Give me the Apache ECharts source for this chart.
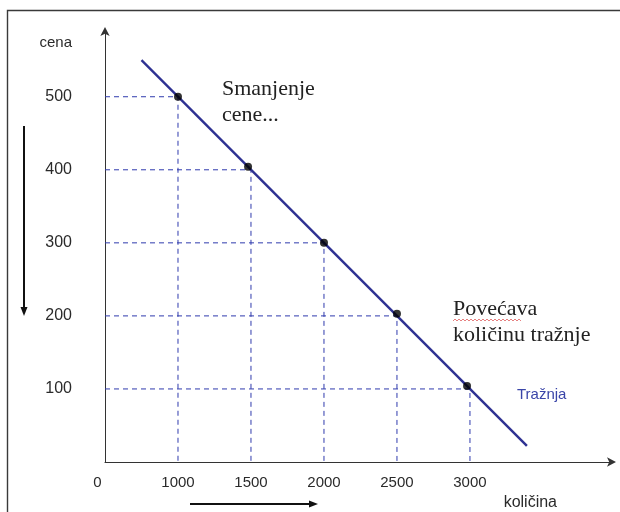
<!DOCTYPE html>
<html><head><meta charset="utf-8">
<script src="https://cdn.jsdelivr.net/npm/echarts@6/dist/echarts.min.js"></script>
<style>html,body{margin:0;padding:0;background:#fff}#c{width:620px;height:512px}</style>
</head><body><div id="c"></div>
<script>
// demand line endpoints
const lineQ = [750, 3390];
const lineP = [550, 22];
// highlighted points on the demand curve
const pointQ = [1000, 1480, 2000, 2500, 2980];
const pointP = [500, 404, 300, 203, 104];
// guide (dashed) levels
const guideQ = [1000, 1500, 2000, 2500, 3000];
const guideP = [500, 400, 300, 200, 100];
// tick labels
const xTickLabels = [1000, 1500, 2000, 2500, 3000];
const yTickLabels = [100, 200, 300, 400, 500];
const xMin = 500, xMax = 3973, yMin = 0, yMax = 590;

const chart = echarts.init(document.getElementById('c'), null, {renderer: 'canvas'});

const guideSeries = guideQ.map((q, i) => ({
  type: 'line',
  data: [[xMin, guideP[i]], [q, guideP[i]], [q, yMin]],
  symbol: 'none',
  silent: true,
  lineStyle: {color: '#2f3aad', width: 1, type: [5, 4]},
  z: 1
}));

chart.setOption({
  animation: false,
  grid: {left: 105, right: 8, top: 31, bottom: 50, containLabel: false},
  xAxis: {
    type: 'value', min: xMin, max: xMax, interval: 500,
    splitLine: {show: false},
    axisTick: {show: false},
    axisLine: {show: true, symbol: ['none', 'arrow'], symbolSize: [7, 9], symbolOffset: [0, 4],
      lineStyle: {color: '#333', width: 1}},
    axisLabel: {
      showMaxLabel: false,
      margin: 13,
      fontFamily: 'Liberation Sans', fontSize: 15, color: '#2a2a2a',
      formatter: v => v === xMin ? '{z|0}' : (xTickLabels.includes(v) ? String(v) : ''),
      rich: {z: {fontFamily: 'Liberation Sans', fontSize: 15, color: '#2a2a2a', padding: [0, 15, 0, 0]}}
    },
    name: 'količina', nameLocation: 'end', nameGap: 0,
    nameTextStyle: {fontFamily: 'Liberation Sans', fontSize: 16, color: '#2a2a2a',
      align: 'right', verticalAlign: 'top', padding: [33, 55, 0, 0]}
  },
  yAxis: {
    type: 'value', min: yMin, max: yMax, interval: 100,
    splitLine: {show: false},
    axisTick: {show: false},
    axisLine: {show: true, symbol: ['none', 'arrow'], symbolSize: [7, 9], symbolOffset: [0, 4],
      lineStyle: {color: '#333', width: 1}},
    axisLabel: {
      showMaxLabel: false,
      margin: 33,
      fontFamily: 'Liberation Sans', fontSize: 16, color: '#2a2a2a',
      formatter: v => yTickLabels.includes(v) ? String(v) : ''
    },
    name: 'cena', nameLocation: 'end', nameGap: -12,
    nameTextStyle: {fontFamily: 'Liberation Sans', fontSize: 15, color: '#2a2a2a',
      align: 'right', verticalAlign: 'middle', padding: [0, 33, 0, 0]}
  },
  series: [
    ...guideSeries,
    {
      type: 'line',
      data: lineQ.map((q, i) => [q, lineP[i]]),
      symbol: 'none',
      lineStyle: {color: '#2e3192', width: 2.4},
      z: 3
    },
    {
      type: 'scatter',
      data: pointQ.map((q, i) => [q, pointP[i]]),
      symbol: 'circle', symbolSize: 8,
      itemStyle: {color: '#000'},
      z: 4
    }
  ],
  graphic: [
    {type: 'polyline', shape: {points: [[7.5, 512], [7.5, 10.5], [620, 10.5]]},
      style: {stroke: '#3a3a3a', lineWidth: 1.4, fill: null}},
    {type: 'text', left: 222, top: 76,
      style: {text: 'Smanjenje\ncene...', font: '22px "Liberation Serif"', fill: '#222', lineHeight: 26}},
    {type: 'text', left: 453, top: 296,
      style: {text: 'Povećava\nkoličinu tražnje', font: '22px "Liberation Serif"', fill: '#222', lineHeight: 26}},
    {type: 'polyline', shape: {points: [[453,321],[455,319],[457,321],[459,319],[461,321],[463,319],[465,321],[467,319],[469,321],[471,319],[473,321],[475,319],[477,321],[479,319],[481,321],[483,319],[485,321],[487,319],[489,321],[491,319],[493,321],[495,319],[497,321],[499,319],[501,321],[503,319],[505,321],[507,319],[509,321],[511,319],[513,321],[515,319],[517,321],[519,319],[521,321]]},
      style: {stroke: '#e06060', lineWidth: 0.8, fill: null}},
    {type: 'text', left: 517, top: 387,
      style: {text: 'Tražnja', font: '15px "Liberation Sans"', fill: '#3a45a8'}},
    {type: 'line', shape: {x1: 24, y1: 126, x2: 24, y2: 309}, style: {stroke: '#111', lineWidth: 2}},
    {type: 'polygon', shape: {points: [[20.5, 307], [27.5, 307], [24, 316]]}, style: {fill: '#111'}},
    {type: 'line', shape: {x1: 190, y1: 504, x2: 311, y2: 504}, style: {stroke: '#111', lineWidth: 2}},
    {type: 'polygon', shape: {points: [[309, 500.5], [309, 507.5], [318, 504]]}, style: {fill: '#111'}}
  ]
});
</script>
</body></html>
